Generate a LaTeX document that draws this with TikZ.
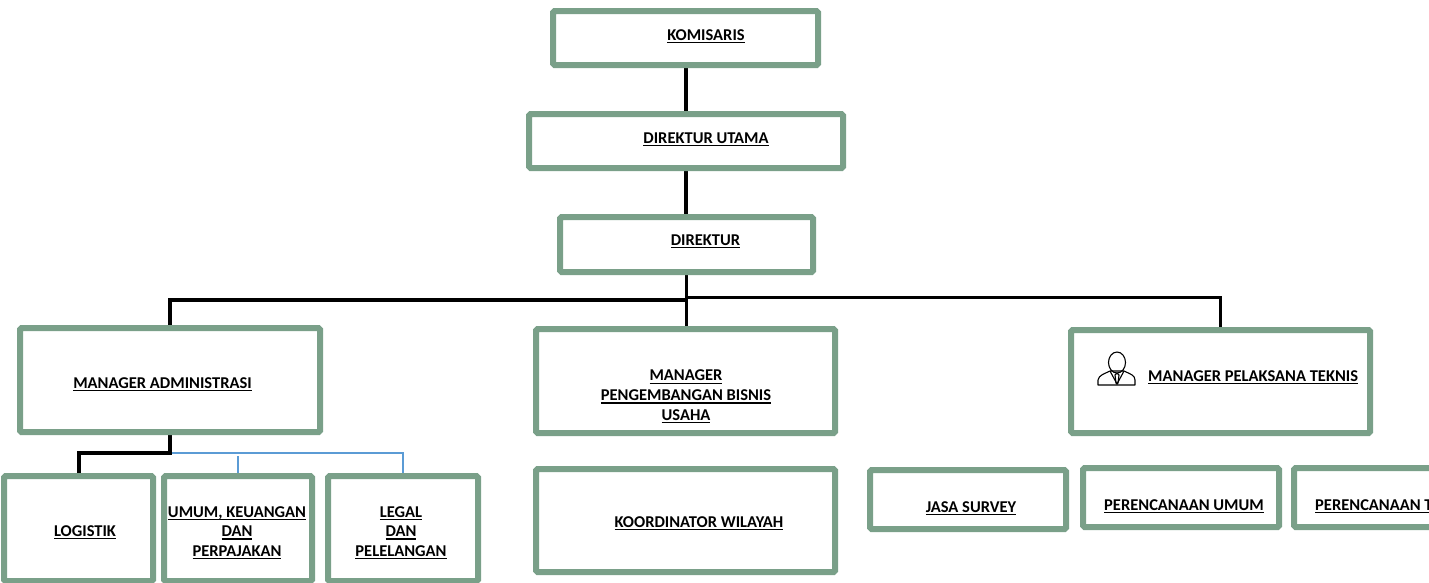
\documentclass[tikz,border=0pt]{standalone}
\usepackage{fontspec}
\setmainfont{Carlito}
\usetikzlibrary{calc,shapes.geometric}
\pgfdeclarelayer{background}
\pgfsetlayers{background,main}
\definecolor{boxgreen}{RGB}{122,160,137}
\definecolor{thinblue}{RGB}{91,155,213}
\newcommand{\ulx}[1]{\leavevmode\setbox0\hbox{#1}\rlap{\rule[-2.9pt]{\wd0}{1.3pt}}\box0}
\tikzset{
  orgbox/.style={draw=boxgreen, line width=6pt, rounded corners=1.5pt, inner sep=0pt, fill=white},
  lbl/.style={font=\bfseries\fontsize{16.5}{19.7}\selectfont, align=center, inner sep=0pt, anchor=base},
  conn/.style={draw=black, line width=4pt},
  connthin/.style={draw=black, line width=3pt},
  bline/.style={draw=thinblue, line width=1.2pt},
  iconline/.style={draw=black, line width=1.1pt, line join=round}
}
\begin{document}
\begin{tikzpicture}[x=1pt, y=-1pt]
\useasboundingbox (0,0) rectangle (1429,582);
\clip (0,0) rectangle (1429,582);

% boxes
\node[orgbox, minimum width=265pt, minimum height=54pt] (kom) at (685.5,38) {};
\node[orgbox, minimum width=314pt, minimum height=54pt] (du) at (686,141) {};
\node[orgbox, minimum width=253pt, minimum height=55pt] (dir) at (686.5,244.5) {};
\node[orgbox, minimum width=300pt, minimum height=104pt] (ma) at (170,380) {};
\node[orgbox, minimum width=299pt, minimum height=104pt] (mpb) at (685.5,381) {};
\node[orgbox, minimum width=299pt, minimum height=103pt] (mpt) at (1220.5,381.5) {};
\node[orgbox, minimum width=149pt, minimum height=105pt] (log) at (78.5,528.5) {};
\node[orgbox, minimum width=148pt, minimum height=105pt] (umum) at (238,528.5) {};
\node[orgbox, minimum width=150pt, minimum height=105pt] (legal) at (403,528.5) {};
\node[orgbox, minimum width=299pt, minimum height=103pt] (kw) at (685.5,520.5) {};
\node[orgbox, minimum width=196pt, minimum height=59pt] (js) at (968,499.5) {};
\node[orgbox, minimum width=196pt, minimum height=59pt] (pu) at (1181,497.5) {};
\node[orgbox, minimum width=196pt, minimum height=59pt] (pt) at (1392,497.5) {};

% connectors
\coordinate (busL) at (686,300);
\coordinate (busR) at (686,297);
\coordinate (mj) at (170,453);
\begin{pgfonlayer}{background}
\draw[conn] (kom.south) -- (du.north -| kom.south);
\draw[conn] (du.south -| kom.south) -- (dir.north -| kom.south);
\draw[connthin] (dir.south) -- (dir.south |- mpb.north);
\draw[conn] (ma.north) |- (busL);
\draw[connthin] (mpt.north) |- (busR);
\draw[bline] ([xshift=1.8pt]ma.south) |- (legal.north |- mj) -- (legal.north);
\draw[bline] (umum.north) -- ++(0,-17);
\draw[conn] (ma.south) |- (mj) -| (log.north);
\end{pgfonlayer}

% labels
\node[lbl] (tkom) at (706,40.3) {\ulx{KOMISARIS}};
\node[lbl] (tdu) at (706,143.3) {\ulx{DIREKTUR UTAMA}};
\node[lbl] (tdir) at (705.5,245.3) {\ulx{DIREKTUR}};
\node[lbl] (tma) at (162.5,388) {\ulx{MANAGER ADMINISTRASI}};
\node[lbl] (tmpb) at (686,420.3) {\ulx{MANAGER}\\\ulx{PENGEMBANGAN BISNIS}\\\ulx{USAHA}};
\node[lbl, anchor=base west] (tmpt) at (1148,381.3) {\ulx{MANAGER PELAKSANA TEKNIS}};
\node[lbl] (tlog) at (85,536.3) {\ulx{LOGISTIK}};
\node[lbl] (tumum) at (237,556.5) {\ulx{UMUM, KEUANGAN}\\\ulx{DAN}\\\ulx{PERPAJAKAN}};
\node[lbl] (tlegal) at (401,556.5) {\ulx{LEGAL}\\\ulx{DAN}\\\ulx{PELELANGAN}};
\node[lbl] (tkw) at (699,527.3) {\ulx{KOORDINATOR WILAYAH}};
\node[lbl] (tjs) at (971,512.3) {\ulx{JASA SURVEY}};
\node[lbl] (tpu) at (1184,510.3) {\ulx{PERENCANAAN UMUM}};
\node[lbl, anchor=base west] (tpt) at (1315,510.3) {\ulx{PERENCANAAN TEKNIS}};

% person icon
\node[iconline, ellipse, draw, minimum width=17pt, minimum height=21pt, inner sep=0pt] (head) at (1117,362.5) {};
\draw[iconline] (1098,385) -- (1098,380) .. controls (1099,375) and (1104,374) .. (1110,371)
  -- (1124,371) .. controls (1130,374) and (1135,375) .. (1135,380) -- (1135,385) -- cycle;
\draw[iconline] (1110,371) -- (1117,384) -- (1124,371);
\draw[iconline] (1115,375) -- (1117,373) -- (1119,375) -- (1118,383) -- (1117,384) -- (1116,383) -- cycle;
\end{tikzpicture}
\end{document}
